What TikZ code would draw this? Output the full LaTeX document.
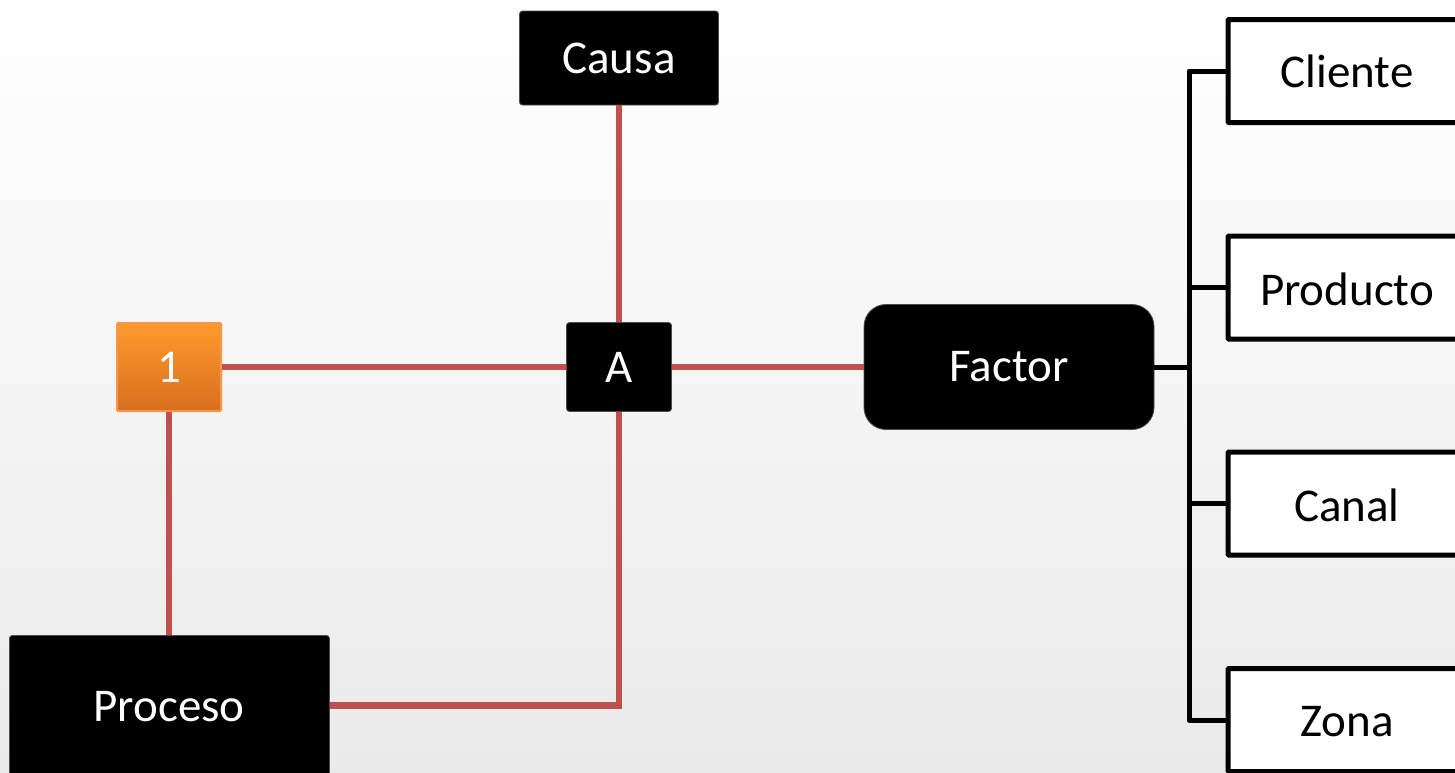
\documentclass[tikz,border=0pt]{standalone}
\usepackage{fontspec}
\setmainfont{Carlito}
\definecolor{redline}{RGB}{192,80,77}
\definecolor{orangetop}{RGB}{255,154,46}
\definecolor{orangebot}{RGB}{216,111,31}
\definecolor{orangeborder}{RGB}{247,150,70}
\definecolor{bgbot}{RGB}{234,234,234}
\begin{document}
\begin{tikzpicture}[x=1pt,y=-1pt,
  every node/.style={font=\fontsize{47}{52}\selectfont, inner sep=0pt},
  blackbox/.style={fill=black, text=white, draw=black!70, line width=0.8pt, rounded corners=3pt},
  factorbox/.style={fill=black, text=white, draw=black!70, line width=0.8pt, rounded corners=22pt},
  orangebox/.style={top color=orangetop, bottom color=orangebot, draw=orangeborder, line width=2pt, text=white, rounded corners=1pt},
  whitebox/.style={fill=white, draw=black, line width=5pt, rounded corners=1pt, text=black},
  redconn/.style={draw=redline, line width=6.5pt},
  blackconn/.style={draw=black, line width=5pt, line join=round}
]
\useasboundingbox (0,0) rectangle (1455,772);
\shade[top color=white, bottom color=bgbot] (0,0) rectangle (1455,772);

\coordinate (bx) at (1189,0);

\node[blackbox, minimum width=199pt, minimum height=94pt] (causa) at (619,58) {Causa};
\node[orangebox, minimum width=104pt, minimum height=88pt] (one) at (169,367) {1};
\node[blackbox, minimum width=105pt, minimum height=89pt] (A) at (619,367) {A};
\node[factorbox, minimum width=290pt, minimum height=125pt] (factor) at (1009,367) {Factor};
\node[blackbox, minimum width=320pt, minimum height=140pt, anchor=north west] (proceso) at (9,635) {};
\node[text=white] at (169,707) {Proceso};

\node[whitebox, minimum width=242pt, minimum height=103pt] (cliente) at (1349,71) {};
\node at (1347,71) {Cliente};
\node[whitebox, minimum width=242pt, minimum height=103pt] (producto) at (1349,287.5) {};
\node at (1347,289) {Producto};
\node[whitebox, minimum width=242pt, minimum height=103pt] (canal) at (1349,503.5) {};
\node at (1347,505) {Canal};
\node[whitebox, minimum width=242pt, minimum height=103pt] (zona) at (1349,720) {};
\node at (1347,722) {Zona};

\draw[redconn] (one.east) -- (A.west);
\draw[redconn] (A.east) -- (factor.west);
\draw[redconn] (causa.south) -- (A.north);
\draw[redconn] (one.south) -- (proceso.north -| one.south);
\draw[redconn] (proceso.east) -| (A.south);

\draw[blackconn] (factor.east) -- (bx |- factor.east);
\draw[blackconn] (cliente.west) -- (bx |- cliente.west) -- (bx |- zona.west) -- (zona.west);
\draw[blackconn] (producto.west) -- (bx |- producto.west);
\draw[blackconn] (canal.west) -- (bx |- canal.west);
\end{tikzpicture}
\end{document}
